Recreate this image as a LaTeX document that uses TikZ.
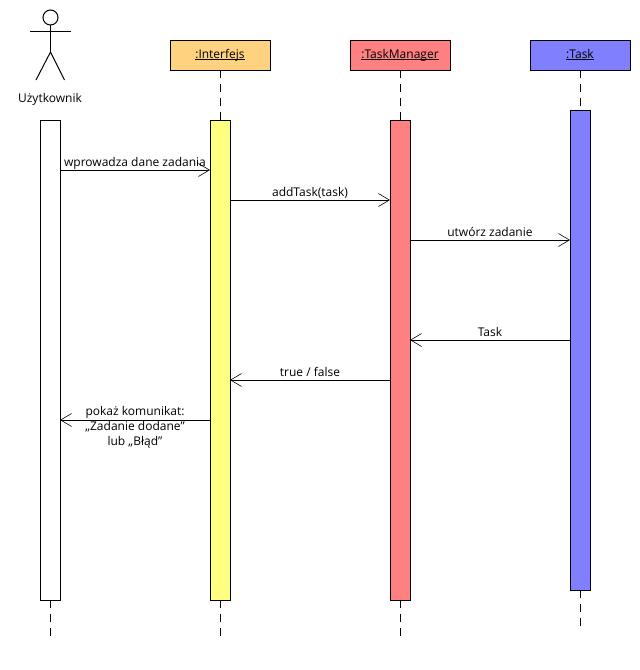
\documentclass[tikz,border=0pt]{standalone}
\usepackage{fontspec}
\setmainfont{Open Sans}
\usetikzlibrary{arrows.meta}
\definecolor{orangeobj}{HTML}{FFD280}
\definecolor{redobj}{HTML}{FF8080}
\definecolor{blueobj}{HTML}{8080FF}
\definecolor{yellowobj}{HTML}{FFFF80}
\newcommand{\objname}[1]{\underline{\smash{#1}}}
\tikzset{
  objbox/.style={draw,line width=1pt,minimum width=100pt,minimum height=30pt,inner sep=0pt,outer sep=0pt,text height=6pt,text depth=0pt,font=\fontsize{12}{14}\selectfont},
  bar/.style={draw,line width=1pt,minimum width=20pt,inner sep=0pt,outer sep=0pt},
  lifeline/.style={line width=0.8pt,dash pattern=on 8pt off 6pt},
  msg/.style={line width=0.9pt,-{Straight Barb[length=11pt,width=13pt,line width=0.6pt]}},
  lbl/.style={inner sep=0pt,align=center,font=\fontsize{12}{15}\selectfont},
  stick/.style={line width=1pt}
}
\begin{document}
\begin{tikzpicture}[x=1pt,y=-1pt]
\useasboundingbox (0,0) rectangle (640,670);
% objects
\node[objbox,fill=orangeobj] (interfejs) at (220,55) {\objname{:Interfejs}};
\node[objbox,fill=redobj] (manager) at (400,55) {\objname{:TaskManager}};
\node[objbox,fill=blueobj] (task) at (580,55) {\objname{:Task}};
% actor
\node[draw,circle,line width=1pt,minimum size=15pt,inner sep=0pt,outer sep=0pt] (head) at (50.5,17.5) {};
\coordinate (armL) at (30,31);
\coordinate (armR) at (71,31);
\coordinate (hip) at (50.5,52);
\coordinate (legL) at (36,80);
\coordinate (legR) at (64.5,80);
\draw[stick] (head.south) -- (hip);
\draw[stick] (armL) -- (armR);
\draw[stick] (legL) -- (hip) -- (legR);
\node[lbl] (user) at (50,99) {Użytkownik};
% activation bars
\node[bar,fill=white,minimum height=480pt] (barU) at (50,360) {};
\node[bar,fill=yellowobj,minimum height=480pt] (barI) at (220,360) {};
\node[bar,fill=redobj,minimum height=480pt] (barM) at (400,360) {};
\node[bar,fill=blueobj,minimum height=480pt] (barT) at (580,350) {};
% lifelines
\coordinate (endU) at (50,640);
\coordinate (endI) at (220,640);
\coordinate (endM) at (400,640);
\coordinate (endT) at (580,630);
\draw[lifeline] (interfejs.south) -- (barI.north);
\draw[lifeline] (manager.south) -- (barM.north);
\draw[lifeline] (task.south) -- (barT.north);
\draw[lifeline] (barU.south) -- (endU);
\draw[lifeline] (barI.south) -- (endI);
\draw[lifeline] (barM.south) -- (endM);
\draw[lifeline] (barT.south) -- (endT);
% messages
\draw[msg] ([yshift=-50pt]barU.north east) -- ([yshift=-50pt]barI.north west);
\node[lbl] (m1) at (135,163) {wprowadza dane zadania};
\draw[msg] ([yshift=-80pt]barI.north east) -- ([yshift=-80pt]barM.north west);
\node[lbl] (m2) at (310,193) {addTask(task)};
\draw[msg] ([yshift=-120pt]barM.north east) -- ([yshift=-130pt]barT.north west);
\node[lbl] (m3) at (490,232) {utwórz zadanie};
\draw[msg] ([yshift=-230pt]barT.north west) -- ([yshift=-220pt]barM.north east);
\node[lbl] (m4) at (490,331.5) {Task};
\draw[msg] ([yshift=-260pt]barM.north west) -- ([yshift=-260pt]barI.north east);
\node[lbl] (m5) at (310,371.5) {true / false};
\draw[msg] ([yshift=-300pt]barI.north west) -- ([yshift=-300pt]barU.north east);
\node[lbl] (m6) at (135,427.5) {pokaż komunikat:\\„Zadanie dodane”\\lub „Błąd”};
\end{tikzpicture}
\end{document}
